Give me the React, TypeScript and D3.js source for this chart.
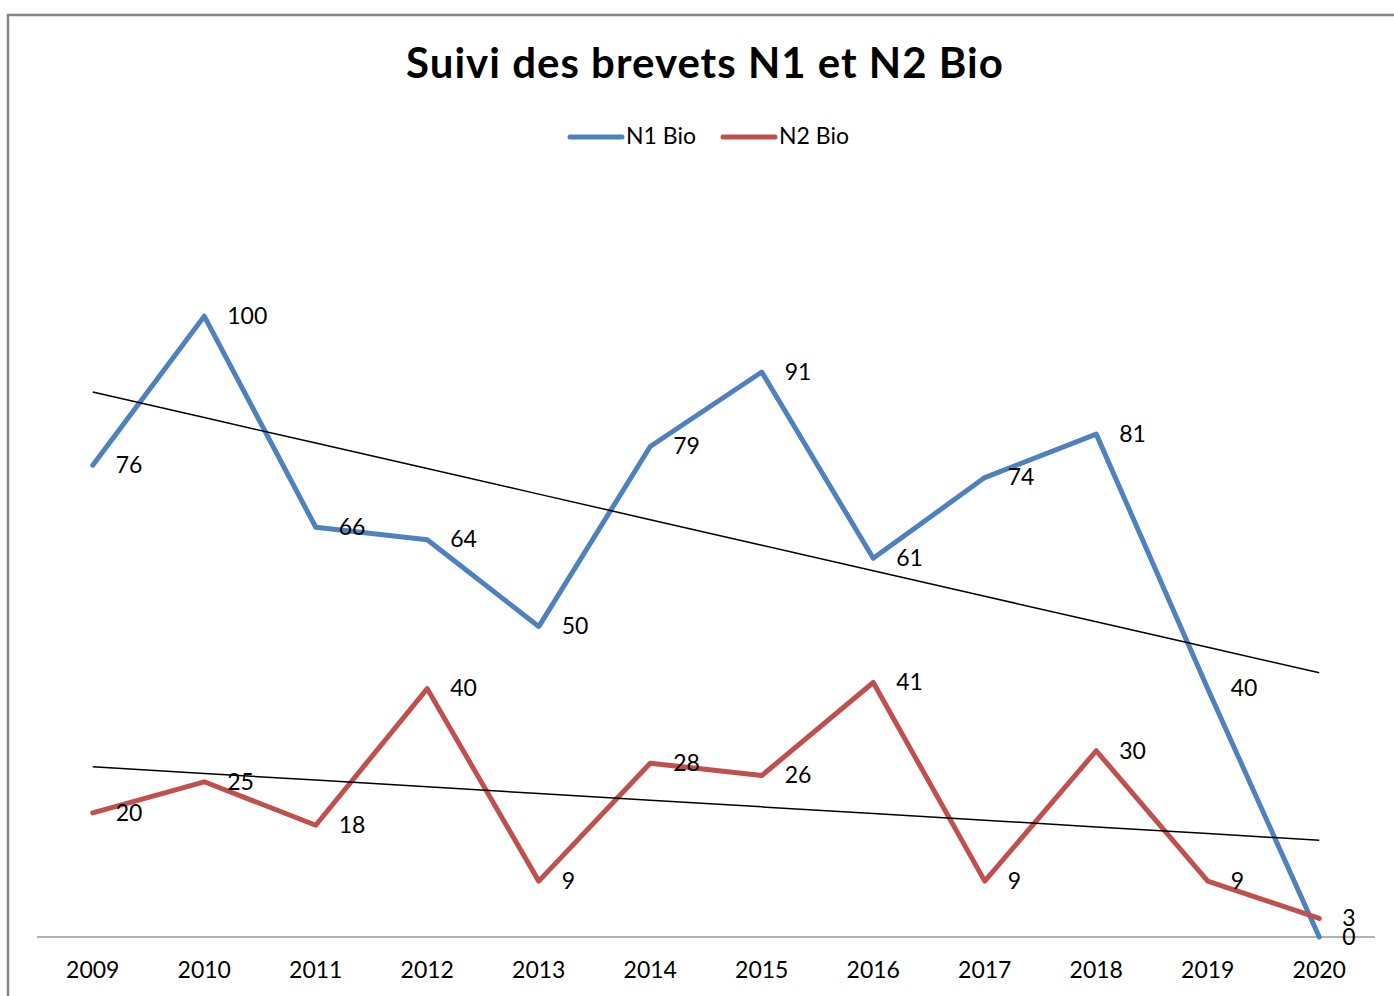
import React, { useRef, useEffect } from 'react';
import * as d3 from 'd3';

const years = ['2009', '2010', '2011', '2012', '2013', '2014', '2015', '2016', '2017', '2018', '2019', '2020'];
const n1Bio = [76, 100, 66, 64, 50, 79, 91, 61, 74, 81, 40, 0];
const n2Bio = [20, 25, 18, 40, 9, 28, 26, 41, 9, 30, 9, 3];
const seriesNames = ['N1 Bio', 'N2 Bio'];
const seriesColors = ['#4F81BD', '#C0504D'];

const FONT = 'Lato, Carlito, "Open Sans", sans-serif';

// least squares fit over the category index
const trend = (vals: number[]) => {
  const xs = vals.map((_, i) => i + 1);
  const mx = d3.mean(xs) as number;
  const my = d3.mean(vals) as number;
  let sxy = 0, sxx = 0;
  xs.forEach((x, i) => { sxy += (x - mx) * (vals[i] - my); sxx += (x - mx) ** 2; });
  const slope = sxy / sxx;
  return xs.map(x => my + slope * (x - mx));
};

const App = () => {
  const ref = useRef<SVGSVGElement>(null);

  useEffect(() => {
    const svg = d3.select(ref.current);
    svg.selectAll('*').remove();

    // chart frame
    svg.append('rect')
      .attr('x', 8).attr('y', 15)
      .attr('width', 1400).attr('height', 1000)
      .attr('fill', 'white')
      .attr('stroke', '#868686')
      .attr('stroke-width', 2.5);

    const x = d3.scaleBand()
      .domain(years)
      .range([37, 1375]);

    const y = d3.scaleLinear()
      .domain([0, 120])
      .range([937, 192]);

    const cx = (d: string) => (x(d) as number) + x.bandwidth() / 2;

    svg.append('text')
      .attr('x', 705).attr('y', 67)
      .attr('text-anchor', 'middle')
      .attr('dominant-baseline', 'middle')
      .attr('font-family', FONT)
      .attr('font-weight', 'bold')
      .attr('font-size', 42)
      .attr('letter-spacing', 1)
      .text('Suivi des brevets N1 et N2 Bio');

    // legend
    const legendX = [570, 723];
    seriesNames.forEach((name, i) => {
      const g = svg.append('g');
      g.append('line')
        .attr('x1', legendX[i]).attr('x2', legendX[i] + 52)
        .attr('y1', 137).attr('y2', 137)
        .attr('stroke', seriesColors[i])
        .attr('stroke-width', 5)
        .attr('stroke-linecap', 'round');
      g.append('text')
        .attr('x', legendX[i] + 56).attr('y', 138)
        .attr('dominant-baseline', 'middle')
        .attr('font-family', FONT)
        .attr('font-size', 23)
        .text(name);
    });

    // axis
    svg.append('line')
      .attr('x1', 37).attr('x2', 1375)
      .attr('y1', y(0)).attr('y2', y(0))
      .attr('stroke', '#999999')
      .attr('stroke-width', 1.5);

    svg.append('g')
      .selectAll('text')
      .data(years)
      .enter()
      .append('text')
      .attr('x', d => cx(d))
      .attr('y', 972)
      .attr('text-anchor', 'middle')
      .attr('dominant-baseline', 'middle')
      .attr('font-family', FONT)
      .attr('font-size', 23)
      .text(d => d);

    const line = d3.line<number>()
      .x((_, i) => cx(years[i]))
      .y(d => y(d));

    const series = [n1Bio, n2Bio];

    series.forEach((vals, i) => {
      svg.append('path')
        .datum(vals)
        .attr('d', line)
        .attr('fill', 'none')
        .attr('stroke', seriesColors[i])
        .attr('stroke-width', 5)
        .attr('stroke-linejoin', 'round')
        .attr('stroke-linecap', 'round');
    });

    series.forEach(vals => {
      svg.append('path')
        .datum(trend(vals))
        .attr('d', line)
        .attr('fill', 'none')
        .attr('stroke', 'black')
        .attr('stroke-width', 1.5);
    });

    series.forEach(vals => {
      svg.append('g')
        .selectAll('text')
        .data(vals)
        .enter()
        .append('text')
        .attr('x', (_, j) => cx(years[j]) + 23)
        .attr('y', d => y(d) + 2)
        .attr('dominant-baseline', 'middle')
        .attr('font-family', FONT)
        .attr('font-size', 23)
        .text(d => d);
    });
  }, []);

  return (
    <svg
      ref={ref}
      width={1394}
      height={996}
      style={{ position: 'absolute', left: 0, top: 0, background: 'white' }}
    ></svg>
  );
};

export default App;
